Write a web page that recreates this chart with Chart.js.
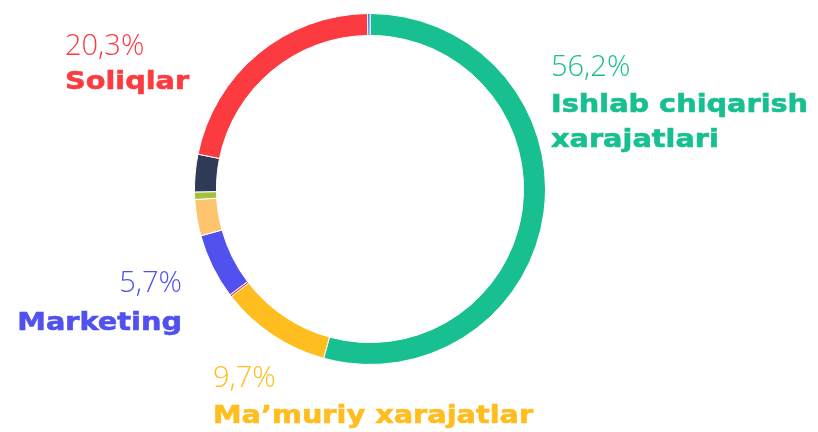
<!DOCTYPE html>
<html>
<head>
<meta charset="utf-8">
<script src="https://cdn.jsdelivr.net/npm/chart.js@4"></script>
<style>
html,body{margin:0;padding:0;background:#fff;}
#wrap{width:818px;height:432px;position:relative;}
</style>
</head>
<body>
<div id="wrap"><canvas id="c" width="818" height="432"></canvas></div>
<script>
const categories = ['Ishlab chiqarish xarajatlari', "Ma’muriy xarajatlar", 'Boshqa 1', 'Marketing', 'Boshqa 2', 'Boshqa 3', 'Boshqa 4', 'Soliqlar', 'Boshqa 5'];
const values = [54.25, 10.25, 0.2, 6.0, 3.35, 0.68, 3.45, 21.6, 0.22];
const colors = ['#18BF90', '#FFBD1F', '#F8393F', '#5151F0', '#FFC56E', '#A3C23A', '#2E3A56', '#FC3B40', '#3D6CD6'];

// Labelled categories and their printed percentages
const labelNames = ['Soliqlar', 'Ishlab chiqarish\nxarajatlari', 'Marketing', "Ma’muriy xarajatlar"];
const labelPercents = ['20,3%', '56,2%', '5,7%', '9,7%'];
const labelColors = ['#FC3B40', '#18BF90', '#5151F0', '#FFBD1F'];

const labelLayout = [
  {x: 65,  pctY: 54.5, nameY: 89,  align: 'left'},
  {x: 551, pctY: 76,   nameY: 112, align: 'left'},
  {x: 182, pctY: 291.5, nameY: 330, align: 'right'},
  {x: 213, pctY: 387,  nameY: 423, align: 'left'}
];

const labelPlugin = {
  id: 'labels',
  afterDraw(chart) {
    const ctx = chart.ctx;
    const sx = 1.15;
    labelNames.forEach((name, i) => {
      const L = labelLayout[i];
      ctx.save();
      ctx.fillStyle = labelColors[i];
      ctx.strokeStyle = labelColors[i];
      ctx.textBaseline = 'alphabetic';
      ctx.textAlign = 'left';
      // percentage
      ctx.font = '300 29px "Open Sans"';
      const pw = ctx.measureText(labelPercents[i]).width;
      const px = L.align === 'right' ? L.x - pw : L.x;
      ctx.fillText(labelPercents[i], px, L.pctY);
      // name
      ctx.font = 'bold 25px "DejaVu Sans"';
      ctx.lineWidth = 0.6;
      const lines = name.split('\n');
      lines.forEach((ln, j) => {
        const w = ctx.measureText(ln).width * sx;
        const nx = L.align === 'right' ? L.x - w : L.x;
        ctx.save();
        ctx.translate(nx, L.nameY + j * 35);
        ctx.scale(sx, 1);
        ctx.fillText(ln, 0, 0);
        ctx.strokeText(ln, 0, 0);
        ctx.restore();
      });
      ctx.restore();
    });
  }
};

new Chart(document.getElementById('c'), {
  type: 'doughnut',
  data: {
    labels: categories,
    datasets: [{
      data: values,
      backgroundColor: colors,
      borderColor: '#ffffff',
      borderWidth: 1
    }]
  },
  options: {
    responsive: false,
    animation: false,
    cutout: '87.5%',
    rotation: 0,
    layout: {padding: {left: 194, right: 272, top: 13, bottom: 67}},
    plugins: {legend: {display: false}, tooltip: {enabled: false}}
  },
  plugins: [labelPlugin]
});
</script>
</body>
</html>
